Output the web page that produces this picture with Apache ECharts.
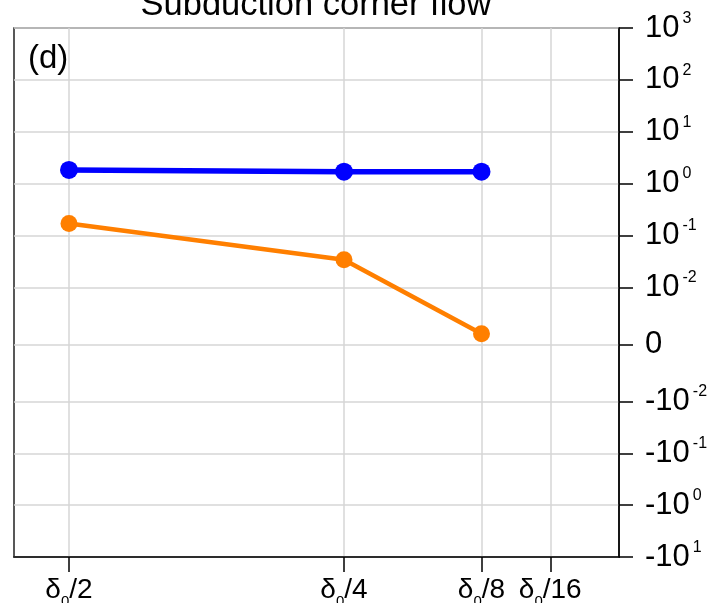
<!DOCTYPE html>
<html>
<head>
<meta charset="utf-8">
<script src="https://cdn.jsdelivr.net/npm/echarts@6/dist/echarts.min.js"></script>
<style>html,body{margin:0;padding:0;background:#fff}#c{width:718px;height:603px}</style>
</head>
<body>
<div id="c"></div>
<script>
// ---- data ----
const titleText = 'Subduction corner flow';
const panelLabel = '(d)';
const xVals = [0.5, 0.25, 0.125];            // δ0/2, δ0/4, δ0/8
const blueVals = [1.83, 1.70, 1.70];
const orangeVals = [0.170, 0.0341, 0.00187];
const xTickVals = [0.5, 0.25, 0.125, 0.0625];
const xTickDenoms = ['2', '4', '8', '16'];
const yTickVals = [1000, 100, 10, 1, 0.1, 0.01, 0, -0.01, -0.1, -1, -10];
const yTickSign = ['', '', '', '', '', '', '', '-', '-', '-', '-'];
const yTickExp = ['3', '2', '1', '0', '-1', '-2', '', '-2', '-1', '0', '1'];

// symmetric-log transform (linear between -0.01 and 0.01)
const LIN = 0.01, D = 1.1;
function f(v) {
  const a = Math.abs(v);
  if (a <= LIN) return v / LIN * D;
  return Math.sign(v) * (Math.log10(a) - Math.log10(LIN) + D);
}
const yT = yTickVals.map(f);
const FONT = '"Liberation Sans", Arial, sans-serif';

const chart = echarts.init(document.getElementById('c'), null, {renderer: 'canvas'});
chart.setOption({
  animation: false,
  backgroundColor: '#fff',
  title: {
    text: titleText, left: 311, top: -17, textAlign: 'center',
    textStyle: {fontFamily: FONT, fontSize: 34.5, fontWeight: 'normal', color: '#000'}
  },
  grid: {left: 14, right: 99, top: 28, bottom: 46, show: true, borderColor: '#222', borderWidth: 1.5,
         containLabel: false, outerBoundsMode: 'none'},
  graphic: [{
    type: 'text', x: 28, y: 59,
    style: {text: panelLabel, font: '33px ' + FONT, fill: '#000', verticalAlign: 'middle', align: 'left'}
  }],
  xAxis: {
    type: 'value', inverse: true, min: 0, max: 0.55,
    axisLine: {show: true, onZero: false, lineStyle: {color: '#000', width: 1.5}},
    axisTick: {show: true, length: 15, lineStyle: {color: '#000', width: 1.5}, customValues: xTickVals},
    splitLine: {show: true, lineStyle: {color: '#d6d6d6', width: 1.5}},
    axisLabel: {
      customValues: xTickVals, margin: 15,
      formatter: function (v) {
        let i = 0, best = 1e9;
        xTickVals.forEach((t, k) => { if (Math.abs(t - v) < best) { best = Math.abs(t - v); i = k; } });
        return '{m|δ}{s|0}{m|/' + xTickDenoms[i] + '}';
      },
      rich: {
        m: {fontFamily: FONT, fontSize: 28, color: '#000'},
        s: {fontFamily: FONT, fontSize: 15, color: '#000', padding: [22, 0, 0, 0]}
      }
    }
  },
  yAxis: {
    type: 'value', position: 'right', min: f(-10), max: f(1000),
    axisLine: {show: true, onZero: false, lineStyle: {color: '#000', width: 1.5}},
    axisTick: {show: true, length: 14, lineStyle: {color: '#000', width: 1.5}, customValues: yT},
    splitLine: {show: true, lineStyle: {color: '#d6d6d6', width: 1.5}},
    axisLabel: {
      customValues: yT, margin: 26,
      formatter: function (v) {
        let i = 0, best = 1e9;
        yT.forEach((t, k) => { if (Math.abs(t - v) < best) { best = Math.abs(t - v); i = k; } });
        if (yTickVals[i] === 0) return '{m|0}';
        return '{m|' + yTickSign[i] + '10}{s|' + yTickExp[i] + '}';
      },
      rich: {
        m: {fontFamily: FONT, fontSize: 31, color: '#000'},
        s: {fontFamily: FONT, fontSize: 16, color: '#000', padding: [0, 0, 19, 3]}
      }
    }
  },
  series: [
    {
      type: 'line', data: xVals.map((x, i) => [x, f(blueVals[i])]),
      symbol: 'circle', symbolSize: 18,
      lineStyle: {color: '#0000ff', width: 5.5}, itemStyle: {color: '#0000ff'}, z: 3
    },
    {
      type: 'line', data: xVals.map((x, i) => [x, f(orangeVals[i])]),
      symbol: 'circle', symbolSize: 17,
      lineStyle: {color: '#ff7f00', width: 4.5}, itemStyle: {color: '#ff7f00'}, z: 2
    }
  ]
});
</script>
</body>
</html>
